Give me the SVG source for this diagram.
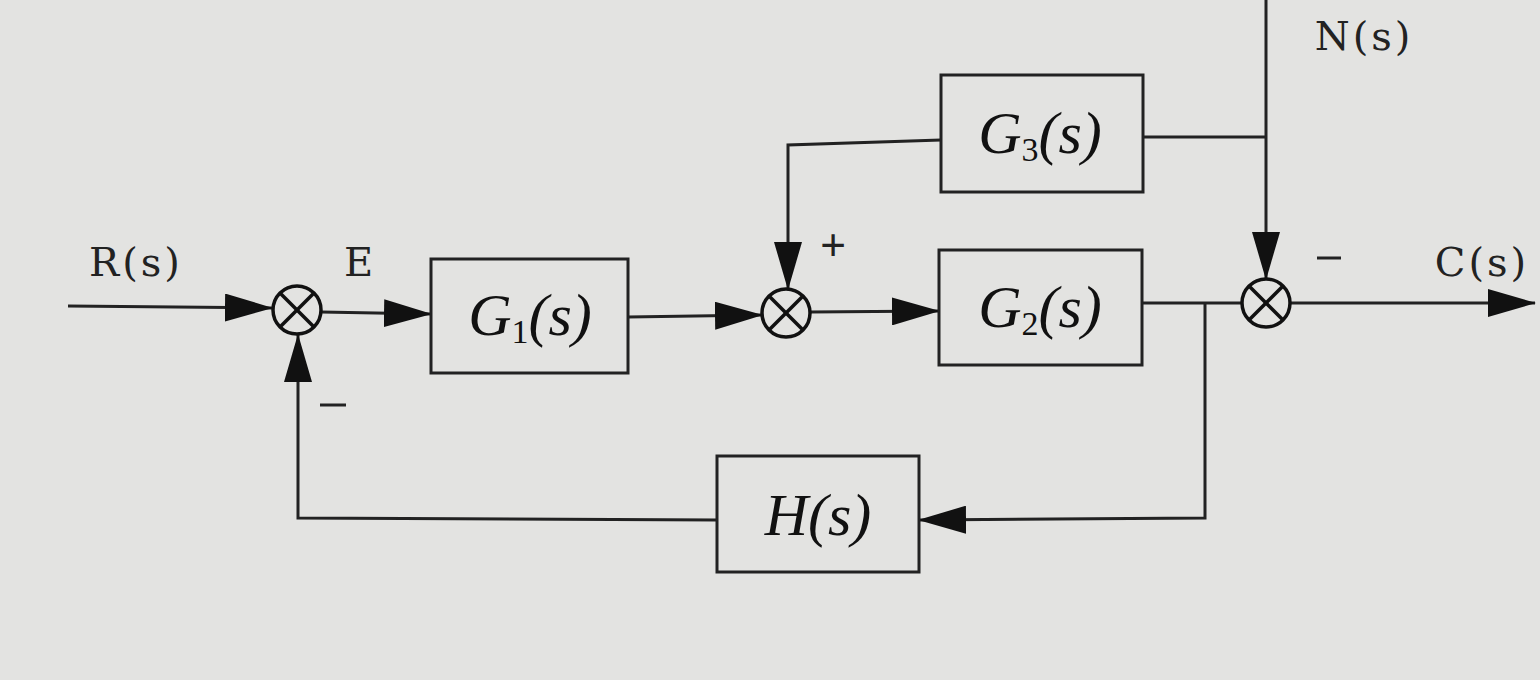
<svg xmlns="http://www.w3.org/2000/svg" width="1540" height="680" viewBox="0 0 1540 680">
<defs>
<marker id="arr" markerUnits="userSpaceOnUse" markerWidth="48" markerHeight="28" refX="47" refY="14" orient="auto">
<path d="M0,0 L48,14 L0,28 Z" fill="#111"/>
</marker>
<style>
.box{fill:none;stroke:#222;stroke-width:3}
.ln{fill:none;stroke:#222;stroke-width:3}
.sum{fill:none;stroke:#111;stroke-width:3.5}
.lbl{font-family:"DejaVu Serif","Liberation Serif",serif;font-size:40px;letter-spacing:3px;fill:#222}
.tf{font-family:"Liberation Serif",serif;font-style:italic;font-size:60px;fill:#111}
.sub{font-size:34px;font-style:normal}
.sign{font-family:"Liberation Sans",sans-serif;font-size:44px;fill:#222}
</style>
</defs>
<rect width="1540" height="680" fill="#e3e3e1"/>
<g id="connectors">
<line class="ln" x1="68" y1="306" x2="272" y2="308" marker-end="url(#arr)"/>
<line class="ln" x1="321" y1="312" x2="431" y2="314" marker-end="url(#arr)"/>
<line class="ln" x1="628" y1="317" x2="762" y2="315" marker-end="url(#arr)"/>
<line class="ln" x1="810" y1="312" x2="939" y2="311" marker-end="url(#arr)"/>
<polyline class="ln" points="1142,303 1242,303"/>
<line class="ln" x1="1290" y1="303" x2="1535" y2="303" marker-end="url(#arr)"/>
<line class="ln" x1="1266" y1="0" x2="1266" y2="279" marker-end="url(#arr)"/>
<polyline class="ln" points="1143,137 1266,137"/>
<polyline class="ln" points="941,140 788,145 788,289" marker-end="url(#arr)"/>
<polyline class="ln" points="1205,303 1205,518 919,520" marker-end="url(#arr)"/>
<polyline class="ln" points="717,520 298,518 298,335" marker-end="url(#arr)"/>
</g>
<g id="sum1">
<circle class="sum" cx="297" cy="310" r="24"/>
<line class="sum" x1="280" y1="293" x2="314" y2="327"/>
<line class="sum" x1="314" y1="293" x2="280" y2="327"/>
</g>
<g id="sum2">
<circle class="sum" cx="786" cy="313" r="24"/>
<line class="sum" x1="769" y1="296" x2="803" y2="330"/>
<line class="sum" x1="803" y1="296" x2="769" y2="330"/>
</g>
<g id="sum3">
<circle class="sum" cx="1266" cy="303" r="24"/>
<line class="sum" x1="1249" y1="286" x2="1283" y2="320"/>
<line class="sum" x1="1283" y1="286" x2="1249" y2="320"/>
</g>
<g id="G1">
<rect class="box" x="431" y="259" width="197" height="114"/>
<text class="tf" x="530" y="335" text-anchor="middle">G<tspan class="sub" dy="8">1</tspan><tspan dy="-8">(s)</tspan></text>
</g>
<g id="G2">
<rect class="box" x="939" y="250" width="203" height="115"/>
<text class="tf" x="1040" y="327" text-anchor="middle">G<tspan class="sub" dy="8">2</tspan><tspan dy="-8">(s)</tspan></text>
</g>
<g id="G3">
<rect class="box" x="941" y="75" width="202" height="117"/>
<text class="tf" x="1040" y="153" text-anchor="middle">G<tspan class="sub" dy="8">3</tspan><tspan dy="-8">(s)</tspan></text>
</g>
<g id="H">
<rect class="box" x="717" y="456" width="202" height="116"/>
<text class="tf" x="818" y="535" text-anchor="middle">H(s)</text>
</g>
<g id="labels">
<text class="lbl" x="136" y="276" text-anchor="middle">R(s)</text>
<text class="lbl" x="360" y="276" text-anchor="middle">E</text>
<text class="lbl" x="1482" y="276" text-anchor="middle">C(s)</text>
<text class="lbl" x="1364" y="50" text-anchor="middle">N(s)</text>
<text class="sign" x="833" y="260" text-anchor="middle">+</text>
<line x1="1317" y1="258" x2="1341" y2="258" stroke="#222" stroke-width="3"/>
<line x1="320" y1="405" x2="346" y2="405" stroke="#222" stroke-width="3"/>
</g>
</svg>
